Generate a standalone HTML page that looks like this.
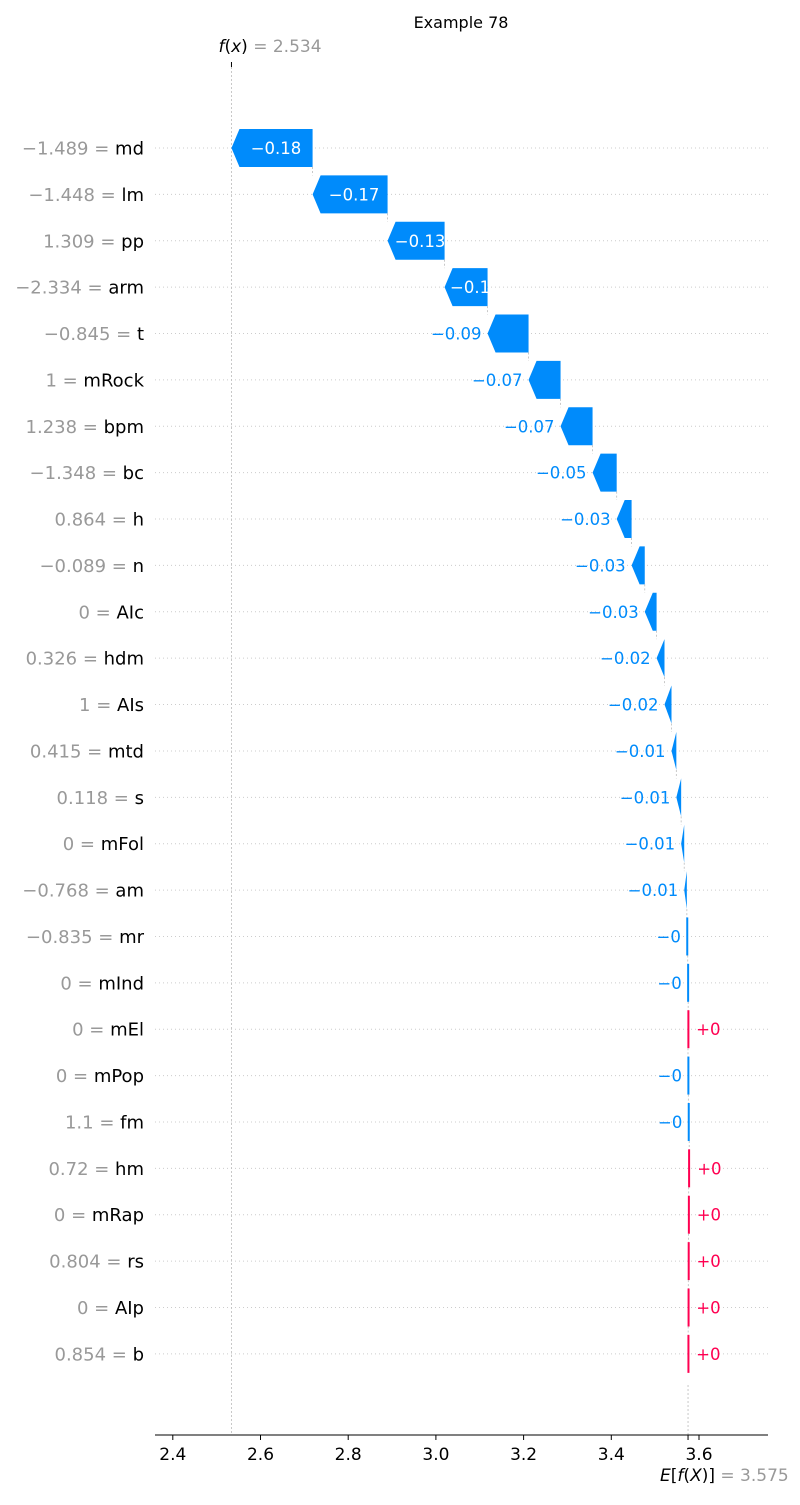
<!DOCTYPE html>
<html><head><meta charset="utf-8"><style>
body{margin:0;background:#fff}
svg{font-family:"DejaVu Sans","Liberation Sans",sans-serif}
</style></head><body>
<svg id="chart" width="800" height="1500" xmlns="http://www.w3.org/2000/svg">
<text x="461" y="28" font-size="16" text-anchor="middle">Example 78</text>
</svg>
<script>
const features=["md","lm","pp","arm","t","mRock","bpm","bc","h","n","AIc","hdm","AIs","mtd","s","mFol","am","mr","mInd","mEl","mPop","fm","hm","mRap","rs","AIp","b"];
const featureValues=["\u22121.489","\u22121.448","1.309","\u22122.334","\u22120.845","1","1.238","\u22121.348","0.864","\u22120.089","0","0.326","1","0.415","0.118","0","\u22120.768","\u22120.835","0","0","0","1.1","0.72","0","0.804","0","0.854"];
const shapValues=[-0.185,-0.171,-0.130,-0.098,-0.0935,-0.073,-0.073,-0.055,-0.034,-0.030,-0.027,-0.018,-0.016,-0.011,-0.011,-0.007,-0.006,-0.002,-0.001,0.0004,-0.0008,-0.002,0.0012,0.0005,0.0004,0.0003,0.0003];
const baseValue=3.575;
const xTicks=[2.4,2.6,2.8,3.0,3.2,3.4,3.6];
const fx=baseValue+shapValues.reduce((a,b)=>a+b,0);

const svg=document.getElementById('chart');
const NS="http://www.w3.org/2000/svg";
const X=v=>699+(v-3.6)*438.5;
const Y=i=>148+i*46.38;
function mk(tag,attrs,txt){const e=document.createElementNS(NS,tag);for(const k in attrs)e.setAttribute(k,attrs[k]);if(txt!==undefined)e.textContent=txt;svg.appendChild(e);return e;}
function fmt(v){let r=Math.round(v*100)/100;let s=Math.abs(r).toFixed(2).replace(/0+$/,'').replace(/\.$/,'');return (v<0?'\u2212':'+')+s;}
const blue="#008bfb",red="#ff0051",gray="#999";

for(let i=0;i<features.length;i++){
 const g=mk('line',{x1:155,x2:768,y1:Y(i),y2:Y(i),stroke:'#ccc','stroke-width':1,'stroke-dasharray':'1,3'});
 
 
}
const fl=mk('line',{x1:X(fx),x2:X(fx),y1:67,y2:1435,stroke:'#bbb','stroke-width':0.8,'stroke-dasharray':'2,2'});


const el=mk('line',{x1:X(baseValue),x2:X(baseValue),y1:1385,y2:1435,stroke:'#bbb','stroke-width':0.8,'stroke-dasharray':'2,2'});


mk('line',{x1:X(fx),x2:X(fx),y1:62,y2:67,stroke:'#000','stroke-width':1});

let cum=fx;
for(let i=0;i<features.length;i++){
 const v=shapValues[i];
 const start=cum, end=cum-v;
 cum=end;
 const x0=X(Math.min(start,end)), x1=X(Math.max(start,end));
 const w=x1-x0, y=Y(i), h=19;
 const hl=Math.min(8,w);
 let pts;
 if(v<0){pts=[[x0,y],[x0+hl,y-h],[x1,y-h],[x1,y+h],[x0+hl,y+h]];}
 else{pts=[[x1,y],[x1-hl,y-h],[x0,y-h],[x0,y+h],[x1-hl,y+h]];}
 if(w<2){pts=[[x0-0.6,y-h],[x0+1.4,y-h],[x0+1.4,y+h],[x0-0.6,y+h]];}
 const p=mk('polygon',{points:pts.map(q=>q.join(',')).join(' '),fill:v<0?blue:red});
 
 
 if(i<features.length-1){
  const cx=X(end);
  const c=mk('line',{x1:cx,x2:cx,y1:y+h,y2:Y(i+1)-h,stroke:'#bbb','stroke-width':0.8,'stroke-dasharray':'2,2'});
  
  
 }
 const txt=fmt(v);
 let t;
 if(Math.abs(v)>=0.095){
  t=mk('text',{x:(x0+hl*(v<0?1:0)+x1-hl*(v<0?0:1))/2,y:y+6,'font-size':16.5,fill:'#fff','text-anchor':'middle'},txt);
 }else if(v<0){
  t=mk('text',{x:x0-6,y:y+6,'font-size':16.5,fill:blue,'text-anchor':'end'},txt);
 }else{
  t=mk('text',{x:x1+8,y:y+6,'font-size':16.5,fill:red,'text-anchor':'start'},txt);
 }
 
 
 const yl=mk('text',{x:144,y:y+6.5,'font-size':18,'text-anchor':'end'});
 
 
 const a=document.createElementNS(NS,'tspan');a.setAttribute('fill',gray);a.textContent=featureValues[i]+' = ';yl.appendChild(a);
 const b=document.createElementNS(NS,'tspan');b.setAttribute('fill','#000');b.textContent=features[i];yl.appendChild(b);
}
const ax=mk('line',{x1:155,x2:768,y1:1435,y2:1435,stroke:'#000','stroke-width':1});


xTicks.forEach(v=>{
 mk('line',{x1:X(v),x2:X(v),y1:1435,y2:1440,stroke:'#000','stroke-width':1});
 const t=mk('text',{x:X(v),y:1460,'font-size':17,'text-anchor':'middle'},v.toFixed(1));
 
 
});
mk('line',{x1:X(baseValue),x2:X(baseValue),y1:1435,y2:1440,stroke:'#000','stroke-width':1});
const ft=mk('text',{x:X(fx)-13,y:52,'font-size':17});


ft.innerHTML='<tspan font-style="italic">f</tspan>(<tspan font-style="italic">x</tspan>)<tspan fill="#999"> = '+fx.toFixed(3)+'</tspan>';
const et=mk('text',{x:X(baseValue)-28,y:1481,'font-size':17});


et.innerHTML='<tspan font-style="italic">E</tspan>[<tspan font-style="italic">f</tspan>(<tspan font-style="italic">X</tspan>)]<tspan fill="#999"> = '+baseValue.toFixed(3)+'</tspan>';
</script>
</body></html>
